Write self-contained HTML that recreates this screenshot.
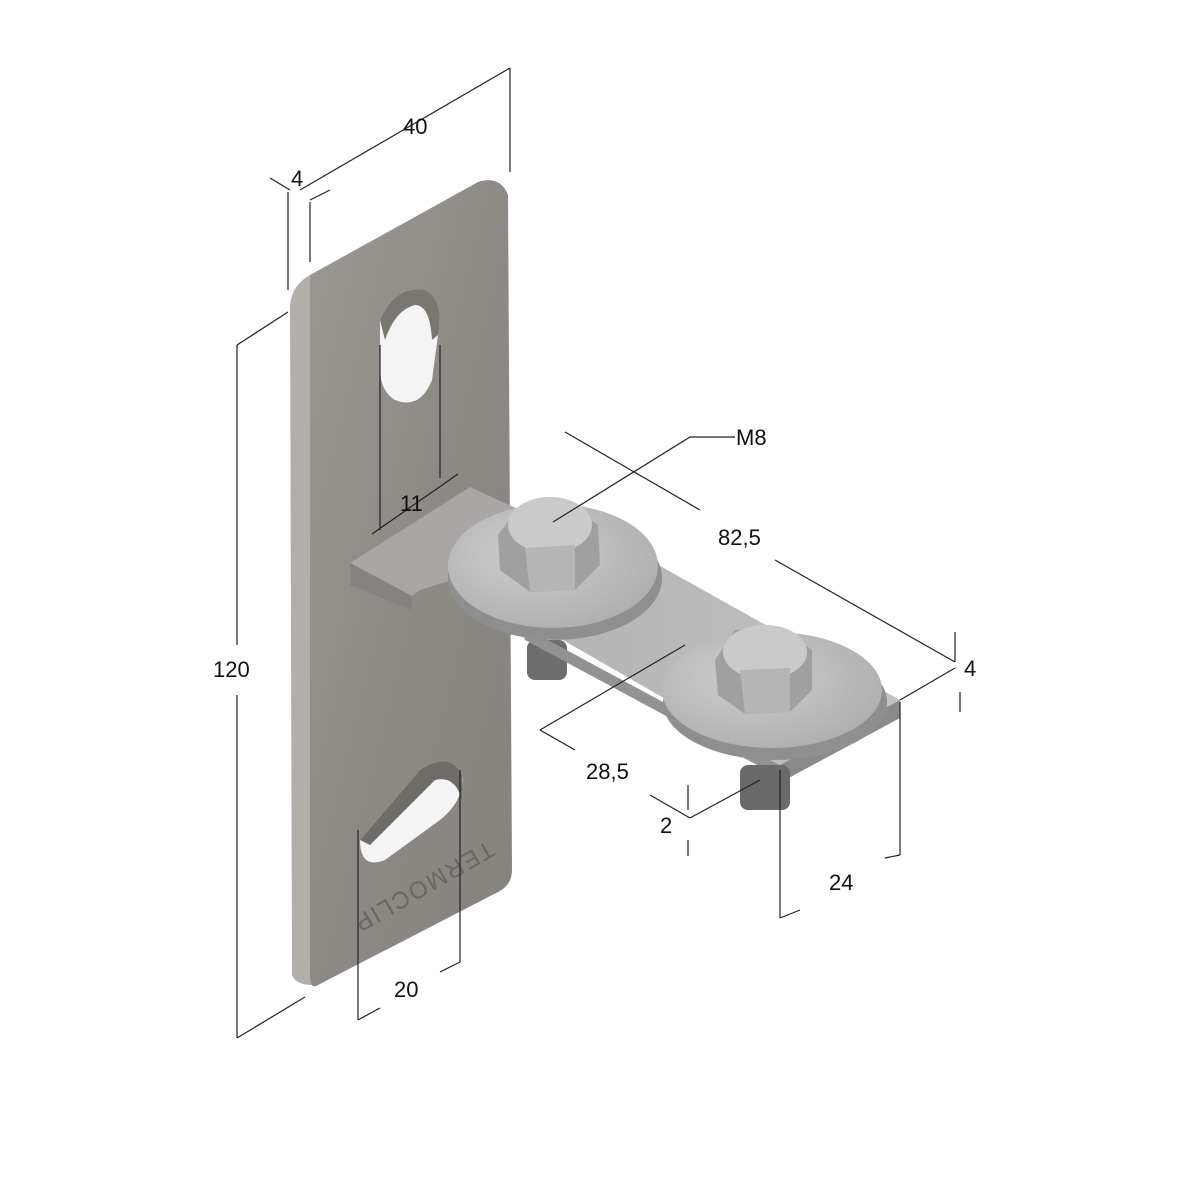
<!DOCTYPE html>
<html><head><meta charset="utf-8"><style>
html,body{margin:0;padding:0;background:#fff;}
svg{display:block;}
text{font-family:"Liberation Sans",sans-serif;font-size:22px;fill:#111;}
</style></head><body>
<svg width="1200" height="1200" viewBox="0 0 1200 1200" xmlns="http://www.w3.org/2000/svg">
<defs>
<linearGradient id="plate" x1="0" y1="0" x2="1" y2="1">
<stop offset="0" stop-color="#9c9893"/><stop offset="0.5" stop-color="#8d8985"/><stop offset="1" stop-color="#86827e"/>
</linearGradient>
<linearGradient id="arm" x1="0" y1="0" x2="1" y2="0">
<stop offset="0" stop-color="#b0b0b0"/><stop offset="1" stop-color="#c2c2c2"/>
</linearGradient>
<radialGradient id="wash" cx="0.4" cy="0.4" r="0.7">
<stop offset="0" stop-color="#cdcdcd"/><stop offset="1" stop-color="#adadad"/>
</radialGradient>
</defs>
<path d="M290,305 Q292,285 310,275 L312,985 Q296,985 292,975 Z" fill="#b2aeaa"/>
<path d="M310,275 L478,182 Q500,175 508,195 L512,870 Q512,885 498,892 L318,985 Q310,990 310,975 Z" fill="url(#plate)"/>
<path d="M380,320 Q395,285 425,290 Q445,300 438,335 L432,380 Q420,410 395,400 Q378,390 380,360 Z" fill="#f4f4f4"/>
<path d="M380,320 Q395,285 425,290 Q445,300 438,335 L432,340 Q430,305 415,305 Q395,310 385,340 Z" fill="#7a7672"/>
<path d="M360,840 L420,770 Q450,750 462,775 Q465,800 440,820 L385,860 Q360,870 360,840 Z" fill="#f4f4f4"/>
<path d="M420,770 Q450,750 462,775 L462,800 Q455,775 435,780 L370,845 L360,840 Z" fill="#6f6b67"/>
<text transform="translate(488,840) rotate(150)" style="font-size:24px;fill:#6a6662;letter-spacing:2px">TERMOCLIP</text>
<path d="M350,563 L470,487 L520,510 L452,580 L420,590 L412,596 Z" fill="#a9a6a3"/>
<path d="M350,563 L412,596 L412,610 L350,585 Z" fill="#85827f"/>
<rect x="527" y="640" width="40" height="40" rx="8" fill="#6d6d6d"/>
<path d="M450,575 L560,510 L900,700 L780,765 Z" fill="url(#arm)"/>
<path d="M780,765 L900,700 L900,718 L785,780 Z" fill="#8a8a8a"/>
<path d="M520,625 L780,765 L785,780 L525,640 Z" fill="#929292"/>
<rect x="740" y="765" width="50" height="45" rx="8" fill="#6a6a6a"/>
<ellipse cx="555" cy="578" rx="107" ry="62" fill="#8f8f8f"/>
<ellipse cx="553" cy="566" rx="105" ry="62" fill="url(#wash)"/>
<path d="M498,535 L520,505 L565,502 L598,525 L600,565 L575,590 L530,592 L500,570 Z" fill="#a0a0a0"/>
<ellipse cx="550" cy="525" rx="42" ry="28" fill="#cacaca"/>
<path d="M525,548 L575,545 L575,590 L530,592 Z" fill="#b5b5b5"/>
<ellipse cx="775" cy="702" rx="112" ry="58" fill="#8f8f8f"/>
<ellipse cx="772" cy="690" rx="110" ry="58" fill="url(#wash)"/>
<path d="M715,660 L735,630 L780,628 L812,650 L812,690 L790,712 L745,714 L718,695 Z" fill="#a0a0a0"/>
<ellipse cx="765" cy="652" rx="42" ry="27" fill="#cacaca"/>
<path d="M740,670 L790,668 L790,712 L745,714 Z" fill="#b5b5b5"/>
<g stroke="#222" stroke-width="1.2" fill="none">
<line x1="300" y1="190" x2="510" y2="68"/>
<line x1="510" y1="68" x2="510" y2="172"/>
<line x1="270" y1="178" x2="290" y2="190"/>
<line x1="310" y1="200" x2="330" y2="190"/>
<line x1="288" y1="192" x2="288" y2="290"/>
<line x1="310" y1="202" x2="310" y2="262"/>
<line x1="237" y1="345" x2="237" y2="645"/>
<line x1="237" y1="695" x2="237" y2="1038"/>
<line x1="237" y1="345" x2="288" y2="312"/>
<line x1="237" y1="1038" x2="305" y2="997"/>
<line x1="380" y1="345" x2="380" y2="530"/>
<line x1="440" y1="345" x2="440" y2="478"/>
<line x1="372" y1="534" x2="458" y2="474"/>
<polyline points="553,522 690,437 735,437"/>
<line x1="565" y1="432" x2="700" y2="510"/>
<line x1="775" y1="560" x2="955" y2="662"/>
<line x1="955" y1="632" x2="955" y2="662"/>
<line x1="900" y1="700" x2="955" y2="668"/>
<line x1="960" y1="692" x2="960" y2="712"/>
<line x1="540" y1="730" x2="685" y2="645"/>
<line x1="540" y1="730" x2="575" y2="750"/>
<line x1="650" y1="795" x2="690" y2="818"/>
<line x1="688" y1="785" x2="688" y2="810"/>
<line x1="688" y1="840" x2="688" y2="856"/>
<line x1="690" y1="818" x2="760" y2="780"/>
<line x1="900" y1="702" x2="900" y2="855"/>
<line x1="885" y1="858" x2="900" y2="855"/>
<line x1="780" y1="770" x2="780" y2="918"/>
<line x1="780" y1="918" x2="800" y2="910"/>
<line x1="358" y1="830" x2="358" y2="1020"/>
<line x1="460" y1="770" x2="460" y2="962"/>
<line x1="358" y1="1020" x2="380" y2="1008"/>
<line x1="440" y1="972" x2="460" y2="962"/>
</g>
<text x="403" y="134">40</text>
<text x="291" y="186">4</text>
<text x="213" y="677">120</text>
<text x="400" y="511">11</text>
<text x="736" y="445">M8</text>
<text x="718" y="545">82,5</text>
<text x="964" y="676">4</text>
<text x="586" y="779">28,5</text>
<text x="660" y="833">2</text>
<text x="829" y="890">24</text>
<text x="394" y="997">20</text>
</svg>
</body></html>
